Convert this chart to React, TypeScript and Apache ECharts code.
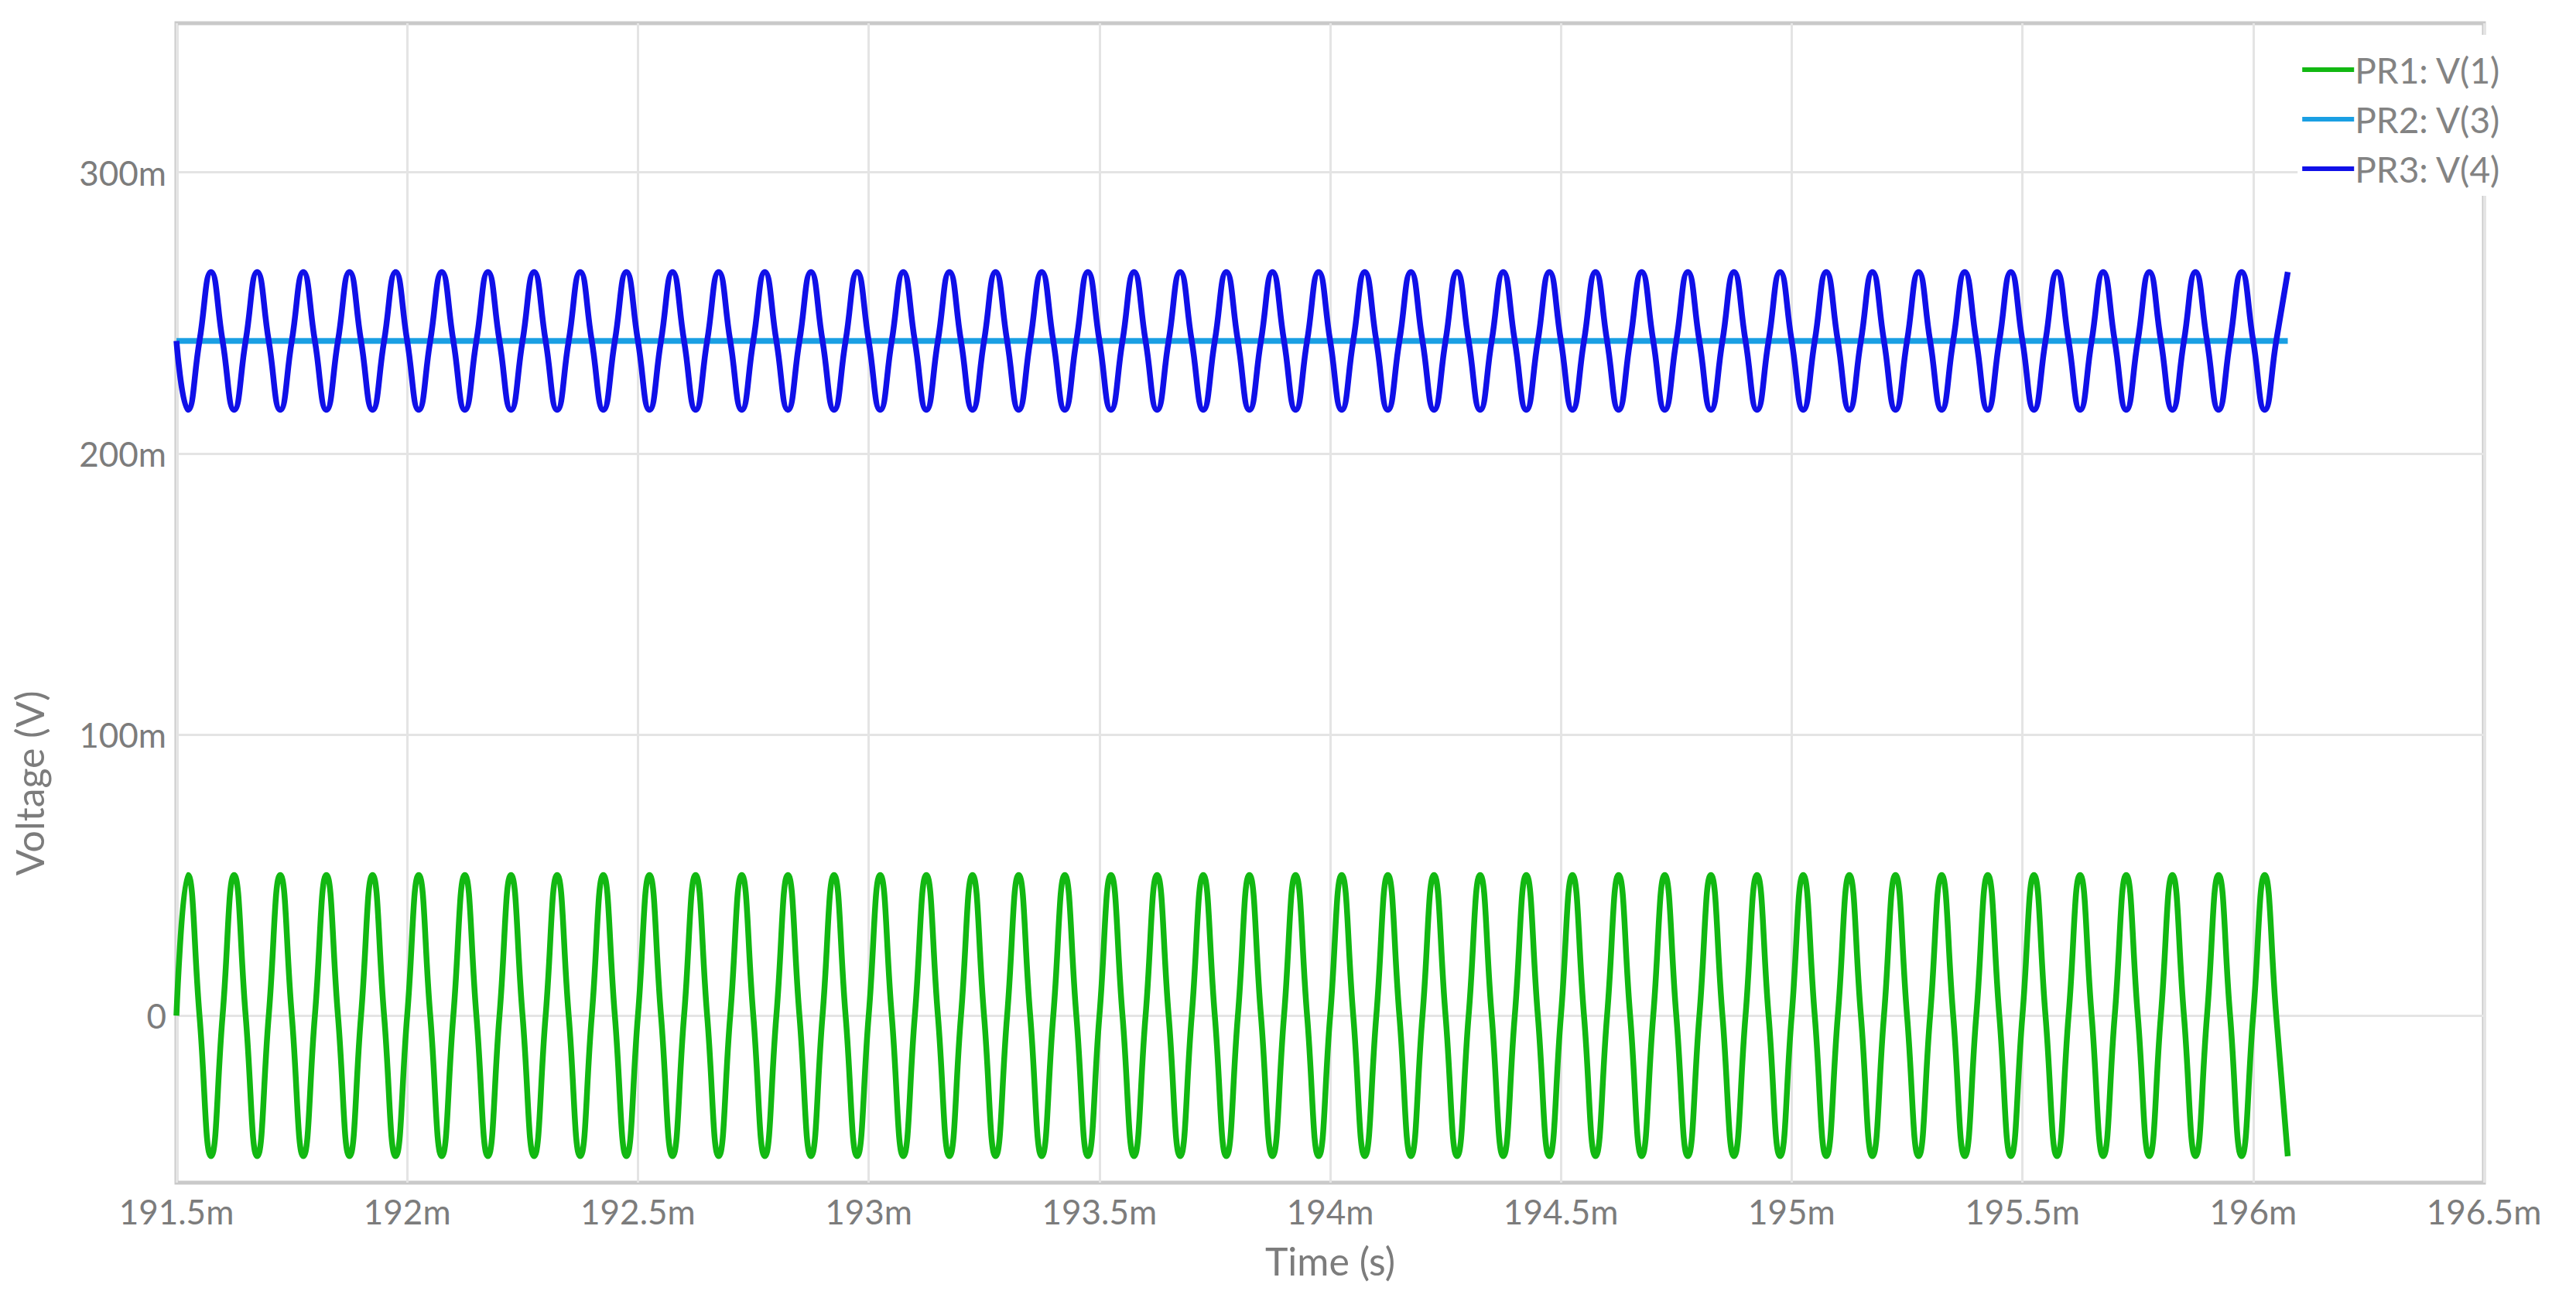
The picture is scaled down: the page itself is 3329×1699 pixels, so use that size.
import React, { useEffect, useRef } from "react";
import * as echarts from "echarts";

// Time samples (ms) at quarter periods of the 10 kHz waveform
const timeMs = [
  191.5, 191.525, 191.55, 191.575,
  191.6, 191.625, 191.65, 191.675,
  191.7, 191.725, 191.75, 191.775,
  191.8, 191.825, 191.85, 191.875,
  191.9, 191.925, 191.95, 191.975,
  192.0, 192.025, 192.05, 192.075,
  192.1, 192.125, 192.15, 192.175,
  192.2, 192.225, 192.25, 192.275,
  192.3, 192.325, 192.35, 192.375,
  192.4, 192.425, 192.45, 192.475,
  192.5, 192.525, 192.55, 192.575,
  192.6, 192.625, 192.65, 192.675,
  192.7, 192.725, 192.75, 192.775,
  192.8, 192.825, 192.85, 192.875,
  192.9, 192.925, 192.95, 192.975,
  193.0, 193.025, 193.05, 193.075,
  193.1, 193.125, 193.15, 193.175,
  193.2, 193.225, 193.25, 193.275,
  193.3, 193.325, 193.35, 193.375,
  193.4, 193.425, 193.45, 193.475,
  193.5, 193.525, 193.55, 193.575,
  193.6, 193.625, 193.65, 193.675,
  193.7, 193.725, 193.75, 193.775,
  193.8, 193.825, 193.85, 193.875,
  193.9, 193.925, 193.95, 193.975,
  194.0, 194.025, 194.05, 194.075,
  194.1, 194.125, 194.15, 194.175,
  194.2, 194.225, 194.25, 194.275,
  194.3, 194.325, 194.35, 194.375,
  194.4, 194.425, 194.45, 194.475,
  194.5, 194.525, 194.55, 194.575,
  194.6, 194.625, 194.65, 194.675,
  194.7, 194.725, 194.75, 194.775,
  194.8, 194.825, 194.85, 194.875,
  194.9, 194.925, 194.95, 194.975,
  195.0, 195.025, 195.05, 195.075,
  195.1, 195.125, 195.15, 195.175,
  195.2, 195.225, 195.25, 195.275,
  195.3, 195.325, 195.35, 195.375,
  195.4, 195.425, 195.45, 195.475,
  195.5, 195.525, 195.55, 195.575,
  195.6, 195.625, 195.65, 195.675,
  195.7, 195.725, 195.75, 195.775,
  195.8, 195.825, 195.85, 195.875,
  195.9, 195.925, 195.95, 195.975,
  196.0, 196.025, 196.05, 196.075,
];

// PR1: V(1) in mV
const prV1 = [
  0, 50, 0, -50, 0, 50, 0, -50, 0, 50, 0, -50, 0, 50, 0, -50, 0, 50, 0, -50,
  0, 50, 0, -50, 0, 50, 0, -50, 0, 50, 0, -50, 0, 50, 0, -50, 0, 50, 0, -50,
  0, 50, 0, -50, 0, 50, 0, -50, 0, 50, 0, -50, 0, 50, 0, -50, 0, 50, 0, -50,
  0, 50, 0, -50, 0, 50, 0, -50, 0, 50, 0, -50, 0, 50, 0, -50, 0, 50, 0, -50,
  0, 50, 0, -50, 0, 50, 0, -50, 0, 50, 0, -50, 0, 50, 0, -50, 0, 50, 0, -50,
  0, 50, 0, -50, 0, 50, 0, -50, 0, 50, 0, -50, 0, 50, 0, -50, 0, 50, 0, -50,
  0, 50, 0, -50, 0, 50, 0, -50, 0, 50, 0, -50, 0, 50, 0, -50, 0, 50, 0, -50,
  0, 50, 0, -50, 0, 50, 0, -50, 0, 50, 0, -50, 0, 50, 0, -50, 0, 50, 0, -50,
  0, 50, 0, -50, 0, 50, 0, -50, 0, 50, 0, -50, 0, 50, 0, -50, 0, 50, 0, -50,
  0, 50, 0, -50, 0, 50, 0, -50,
];

// PR2: V(3) in mV (constant level)
const prV3Time = [191.5, 196.075];
const prV3 = [240, 240];

// PR3: V(4) in mV
const prV4 = [
  240, 215.5, 240, 264.5, 240, 215.5, 240, 264.5, 240, 215.5, 240, 264.5, 240, 215.5, 240, 264.5,
  240, 215.5, 240, 264.5, 240, 215.5, 240, 264.5, 240, 215.5, 240, 264.5, 240, 215.5, 240, 264.5,
  240, 215.5, 240, 264.5, 240, 215.5, 240, 264.5, 240, 215.5, 240, 264.5, 240, 215.5, 240, 264.5,
  240, 215.5, 240, 264.5, 240, 215.5, 240, 264.5, 240, 215.5, 240, 264.5, 240, 215.5, 240, 264.5,
  240, 215.5, 240, 264.5, 240, 215.5, 240, 264.5, 240, 215.5, 240, 264.5, 240, 215.5, 240, 264.5,
  240, 215.5, 240, 264.5, 240, 215.5, 240, 264.5, 240, 215.5, 240, 264.5, 240, 215.5, 240, 264.5,
  240, 215.5, 240, 264.5, 240, 215.5, 240, 264.5, 240, 215.5, 240, 264.5, 240, 215.5, 240, 264.5,
  240, 215.5, 240, 264.5, 240, 215.5, 240, 264.5, 240, 215.5, 240, 264.5, 240, 215.5, 240, 264.5,
  240, 215.5, 240, 264.5, 240, 215.5, 240, 264.5, 240, 215.5, 240, 264.5, 240, 215.5, 240, 264.5,
  240, 215.5, 240, 264.5, 240, 215.5, 240, 264.5, 240, 215.5, 240, 264.5, 240, 215.5, 240, 264.5,
  240, 215.5, 240, 264.5, 240, 215.5, 240, 264.5, 240, 215.5, 240, 264.5, 240, 215.5, 240, 264.5,
  240, 215.5, 240, 264.5, 240, 215.5, 240, 264.5,
];

const seriesNames = ["PR1: V(1)", "PR2: V(3)", "PR3: V(4)"];
const seriesColors = ["#12b812", "#1a9fe3", "#1010e8"];
const yTickValues = [0, 100, 200, 300];
const xMin = 191.5;
const xMax = 196.5;
const xStep = 0.5;
const yMin = -59.4;
const yMax = 353;

const FONT = "Lato";
const GRAY = "#7c7c7c";

export default function App() {
  const ref = useRef<HTMLDivElement>(null);

  useEffect(() => {
    if (!ref.current) return;
    const chart = echarts.init(ref.current, null, { renderer: "svg" });
    const pairs = (t: number[], v: number[]) => t.map((x, i) => [x, v[i]]);

    chart.setOption({
      animation: false,
      backgroundColor: "#ffffff",
      textStyle: { fontFamily: FONT },
      grid: {
        left: 228,
        right: 119,
        top: 30,
        bottom: 171,
        show: true,
        borderColor: "#c9c9c9",
        borderWidth: 5,
        backgroundColor: "transparent",
      },
      legend: {
        orient: "vertical",
        right: 97,
        top: 45,
        padding: [22, 0, 12, 6],
        backgroundColor: "#ffffff",
        icon: "rect",
        itemWidth: 67,
        itemHeight: 6,
        itemGap: 18,
        data: seriesNames,
        textStyle: { fontSize: 46, color: "#838383", fontFamily: FONT, padding: [0, 0, 0, -4] },
      },
      xAxis: {
        type: "value",
        min: xMin,
        max: xMax,
        interval: xStep,
        name: "Time (s)",
        nameLocation: "middle",
        nameGap: 76,
        nameTextStyle: { fontSize: 50, color: GRAY, fontFamily: FONT },
        axisLine: { show: false },
        axisTick: { show: false },
        axisLabel: {
          fontSize: 44,
          color: GRAY,
          fontFamily: FONT,
          margin: 15,
          formatter: (v: number) => `${Number(v.toFixed(3))}m`,
        },
        splitLine: { show: true, lineStyle: { color: "#e4e4e4", width: 3 } },
      },
      yAxis: {
        type: "value",
        min: yMin,
        max: yMax,
        axisLine: { show: false },
        axisTick: { show: false, customValues: yTickValues },
        axisLabel: {
          customValues: yTickValues,
          fontSize: 44,
          color: GRAY,
          fontFamily: FONT,
          margin: 13,
          formatter: (v: number) => (v === 0 ? "0" : `${v}m`),
        },
        splitLine: { show: true, lineStyle: { color: "#e4e4e4", width: 3 } },
      },
      graphic: [
        {
          type: "text",
          x: 38,
          y: 1012,
          rotation: Math.PI / 2,
          style: {
            text: "Voltage (V)",
            fontSize: 50,
            fontFamily: FONT,
            fill: GRAY,
            align: "center",
            verticalAlign: "middle",
          },
        },
      ],
      series: [
        {
          name: seriesNames[0],
          type: "line",
          data: pairs(timeMs, prV1),
          smooth: true,
          showSymbol: false,
          symbol: "none",
          lineStyle: { color: seriesColors[0], width: 7.5 },
          itemStyle: { color: seriesColors[0] },
        },
        {
          name: seriesNames[1],
          type: "line",
          data: pairs(prV3Time, prV3),
          showSymbol: false,
          symbol: "none",
          lineStyle: { color: seriesColors[1], width: 7.5 },
          itemStyle: { color: seriesColors[1] },
        },
        {
          name: seriesNames[2],
          type: "line",
          data: pairs(timeMs, prV4),
          smooth: true,
          showSymbol: false,
          symbol: "none",
          lineStyle: { color: seriesColors[2], width: 7.5 },
          itemStyle: { color: seriesColors[2] },
        },
      ],
    });

    return () => chart.dispose();
  }, []);

  return (
    <div
      ref={ref}
      style={{ position: "fixed", left: 0, top: 0, width: 3329, height: 1699, background: "#fff" }}
    />
  );
}
